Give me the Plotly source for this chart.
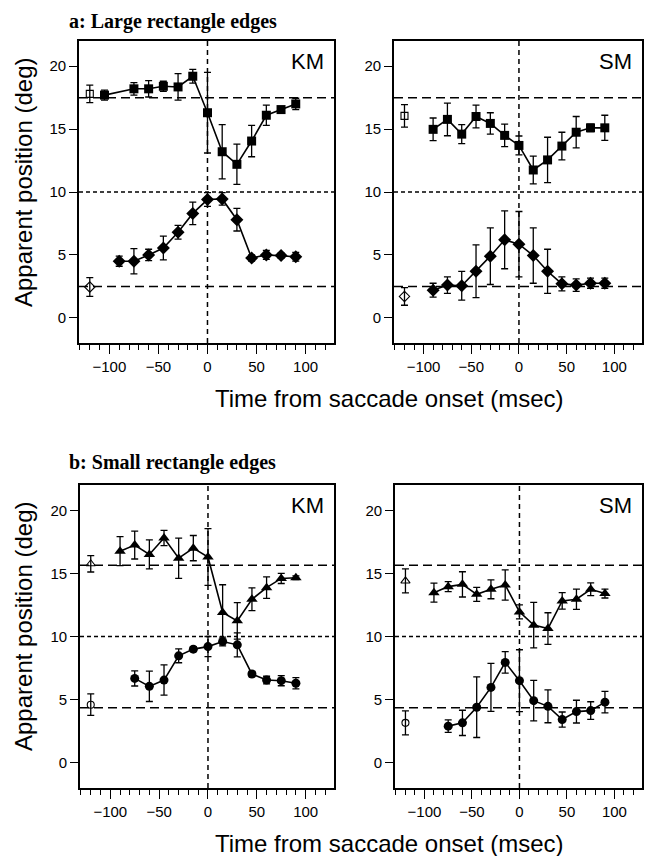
import plotly.graph_objects as go

# ---------------- data ----------------
t = [-90, -75, -60, -45, -30, -15, 0, 15, 30, 45, 60, 75, 90]
t_km_sq = [-105, -75, -60, -45, -30, -15, 0, 15, 30, 45, 60, 75, 90]
t_circ = [-75, -60, -45, -30, -15, 0, 15, 30, 45, 60, 75, 90]
t_ref = [-120]

# Panel a, KM
a_km_sq = [17.7, 18.2, 18.2, 18.4, 18.35, 19.2, 16.3, 13.2, 12.2, 14.05, 16.1, 16.55, 17.0]
a_km_sq_err = [0.4, 0.5, 0.65, 0.4, 1.05, 0.55, 3.2, 2.15, 1.6, 1.25, 0.8, 0.2, 0.45]
a_km_sq_ref, a_km_sq_ref_err = [17.8], [0.7]
a_km_di = [4.5, 4.5, 5.0, 5.55, 6.8, 8.3, 9.4, 9.45, 7.8, 4.75, 5.0, 4.95, 4.85]
a_km_di_err = [0.4, 1.0, 0.45, 0.95, 0.55, 0.9, 0.55, 0.5, 0.9, 0.25, 0.35, 0.2, 0.35]
a_km_di_ref, a_km_di_ref_err = [2.45], [0.75]

# Panel a, SM
a_sm_sq = [14.98, 15.77, 14.6, 16.0, 15.45, 14.5, 13.7, 11.75, 12.55, 13.65, 14.75, 15.1, 15.1]
a_sm_sq_err = [0.9, 1.3, 0.75, 0.9, 0.85, 0.9, 0.75, 1.1, 1.8, 1.1, 1.25, 0.3, 1.0]
a_sm_sq_ref, a_sm_sq_ref_err = [16.05], [0.9]
a_sm_di = [2.2, 2.6, 2.55, 3.7, 4.9, 6.2, 5.85, 4.95, 3.7, 2.7, 2.6, 2.75, 2.75]
a_sm_di_err = [0.55, 0.65, 1.15, 2.1, 2.25, 2.3, 2.6, 2.2, 1.75, 0.55, 0.5, 0.4, 0.4]
a_sm_di_ref, a_sm_di_ref_err = [1.7], [0.7]

# Panel b, KM
b_km_tr = [16.76, 17.24, 16.5, 17.8, 16.2, 17.0, 16.3, 11.9, 11.24, 12.95, 13.87, 14.6, 14.65]
b_km_tr_err = [1.15, 1.1, 1.15, 0.6, 1.6, 1.0, 2.25, 2.2, 1.45, 0.9, 0.85, 0.4, 0.15]
b_km_tr_ref, b_km_tr_ref_err = [15.76], [0.65]
b_km_ci = [6.68, 6.05, 6.55, 8.47, 9.0, 9.2, 9.6, 9.34, 7.03, 6.55, 6.5, 6.3]
b_km_ci_err = [0.6, 1.2, 1.2, 0.55, 0.2, 0.8, 0.35, 0.95, 0.2, 0.3, 0.4, 0.45]
b_km_ci_ref, b_km_ci_ref_err = [4.6], [0.85]

# Panel b, SM
b_sm_tr = [13.47, 13.95, 14.13, 13.34, 13.74, 14.08, 11.95, 10.9, 10.63, 12.82, 12.95, 13.74, 13.4]
b_sm_tr_err = [0.75, 0.4, 1.0, 0.55, 0.75, 1.2, 0.55, 1.8, 1.25, 0.65, 0.8, 0.5, 0.35]
b_sm_tr_ref, b_sm_tr_ref_err = [14.4], [0.95]
b_sm_ci = [2.9, 3.16, 4.4, 5.97, 7.95, 6.5, 4.92, 4.47, 3.42, 4.05, 4.13, 4.8]
b_sm_ci_err = [0.5, 1.0, 2.4, 1.9, 0.85, 2.45, 1.6, 1.3, 0.6, 0.9, 0.7, 0.85]
b_sm_ci_ref, b_sm_ci_ref_err = [3.16], [0.95]

# reference (dashed) levels
a_levels = [17.5, 10, 2.5]
b_levels = [15.65, 10, 4.35]

x_ticks = [-100, -50, 0, 50, 100]
y_ticks = [0, 5, 10, 15, 20]
panel_titles = ["a: Large rectangle edges", "b: Small rectangle edges"]
subjects = ["KM", "SM"]
x_title = "Time from saccade onset (msec)"
y_title = "Apparent position (deg)"

# ---------------- figure ----------------
W, H = 645, 856
FONT = "Liberation Sans, Arial, Helvetica, sans-serif"
SERIF = "Liberation Serif, Times New Roman, serif"
fig = go.Figure()

def px_x(p):
    return p / W

def px_y(p):
    return 1 - p / H

# box geometry in pixels: (left, right, top, bottom)
boxes = [
    (79, 334, 41, 343),
    (394, 642, 41, 343),
    (80, 334, 485, 788),
    (395, 642, 485, 788),
]

def add_series(idx, xs, ys, errs, symbol, size, ref_y, ref_err, ref_symbol, ref_size):
    xa = "x" if idx == 1 else f"x{idx}"
    ya = "y" if idx == 1 else f"y{idx}"
    fig.add_trace(go.Scatter(
        x=xs, y=ys, xaxis=xa, yaxis=ya, mode="lines+markers",
        line=dict(color="black", width=1.6),
        marker=dict(symbol=symbol, size=size, color="black"),
        error_y=dict(type="data", array=errs, color="black", thickness=1.3, width=3.5),
        showlegend=False, hoverinfo="skip"))
    fig.add_trace(go.Scatter(
        x=t_ref, y=ref_y, xaxis=xa, yaxis=ya, mode="markers",
        marker=dict(symbol=ref_symbol, size=ref_size, color="black", line=dict(width=1.1, color="black")),
        error_y=dict(type="data", array=ref_err, color="black", thickness=1.3, width=3.5),
        showlegend=False, hoverinfo="skip"))

add_series(1, t_km_sq, a_km_sq, a_km_sq_err, "square", 9, a_km_sq_ref, a_km_sq_ref_err, "square-open", 7)
add_series(1, t, a_km_di, a_km_di_err, "diamond", 10, a_km_di_ref, a_km_di_ref_err, "diamond-open", 8)
add_series(2, t, a_sm_sq, a_sm_sq_err, "square", 9, a_sm_sq_ref, a_sm_sq_ref_err, "square-open", 7)
add_series(2, t, a_sm_di, a_sm_di_err, "diamond", 10, a_sm_di_ref, a_sm_di_ref_err, "diamond-open", 8)
add_series(3, t, b_km_tr, b_km_tr_err, "triangle-up", 10, b_km_tr_ref, b_km_tr_ref_err, "triangle-up-open", 8)
add_series(3, t_circ, b_km_ci, b_km_ci_err, "circle", 9, b_km_ci_ref, b_km_ci_ref_err, "circle-open", 7)
add_series(4, t, b_sm_tr, b_sm_tr_err, "triangle-up", 10, b_sm_tr_ref, b_sm_tr_ref_err, "triangle-up-open", 8)
add_series(4, t_circ, b_sm_ci, b_sm_ci_err, "circle", 9, b_sm_ci_ref, b_sm_ci_ref_err, "circle-open", 7)

layout = dict(
    width=W, height=H, margin=dict(l=0, r=0, t=0, b=0),
    paper_bgcolor="white", plot_bgcolor="white",
    font=dict(family=FONT, color="black"),
)

for i, (l, r, tp, bt) in enumerate(boxes, start=1):
    sx = "" if i == 1 else str(i)
    layout[f"xaxis{sx}"] = dict(
        domain=[px_x(l), px_x(r)], anchor=f"y{sx}", range=[-131, 129],
        tickvals=x_ticks, ticks="outside", ticklen=9, tickwidth=1.3, tickcolor="black",
        minor=dict(dtick=10, tick0=0, ticks="outside", ticklen=5, tickwidth=1.2, tickcolor="black"),
        showline=True, linecolor="black", linewidth=1.6, mirror=True,
        showgrid=False, zeroline=False, tickfont=dict(size=15, family=FONT), fixedrange=True,
    )
    layout[f"yaxis{sx}"] = dict(
        domain=[px_y(bt), px_y(tp)], anchor=f"x{sx}", range=[-2, 22],
        tickvals=y_ticks, ticks="outside", ticklen=8, tickwidth=1.2, tickcolor="black",
        showline=True, linecolor="black", linewidth=1.6, mirror=True,
        showgrid=False, zeroline=False, tickfont=dict(size=15, family=FONT), fixedrange=True,
    )

fig.update_layout(**layout)

shapes = []
for i in range(1, 5):
    sx = "" if i == 1 else str(i)
    levels = a_levels if i <= 2 else b_levels
    for lv in levels:
        dash = "4px,3px" if lv == 10 else "9px,5px"
        shapes.append(dict(type="line", xref=f"x{sx} domain", yref=f"y{sx}",
                           x0=0, x1=1, y0=lv, y1=lv,
                           line=dict(color="black", width=1.5, dash=dash)))
    shapes.append(dict(type="line", xref=f"x{sx}", yref=f"y{sx} domain",
                       x0=0, x1=0, y0=0, y1=1,
                       line=dict(color="black", width=1.5, dash="5px,4px")))

annotations = []
# subject labels
for i, (l, r, tp, bt) in enumerate(boxes, start=1):
    annotations.append(dict(text=subjects[(i - 1) % 2], x=px_x(r - 8), y=px_y(tp + 20),
                            xref="paper", yref="paper", xanchor="right", yanchor="middle",
                            showarrow=False, font=dict(size=22, family=FONT)))
# panel titles
for txt, cy in zip(panel_titles, (21, 462)):
    annotations.append(dict(text="<b>" + txt + "</b>", x=px_x(67), y=px_y(cy),
                            xref="paper", yref="paper", xanchor="left", yanchor="middle",
                            showarrow=False, font=dict(size=20, family=SERIF)))
# axis titles
for cy in (182, 626):
    annotations.append(dict(text=y_title, x=px_x(23), y=px_y(cy), xref="paper", yref="paper",
                            xanchor="center", yanchor="middle", textangle=-90,
                            showarrow=False, font=dict(size=24, family=FONT)))
for cy in (398, 843):
    annotations.append(dict(text=x_title, x=px_x(389), y=px_y(cy), xref="paper", yref="paper",
                            xanchor="center", yanchor="middle",
                            showarrow=False, font=dict(size=24, family=FONT)))

fig.update_layout(shapes=shapes, annotations=annotations)
fig.write_html("out.html")
